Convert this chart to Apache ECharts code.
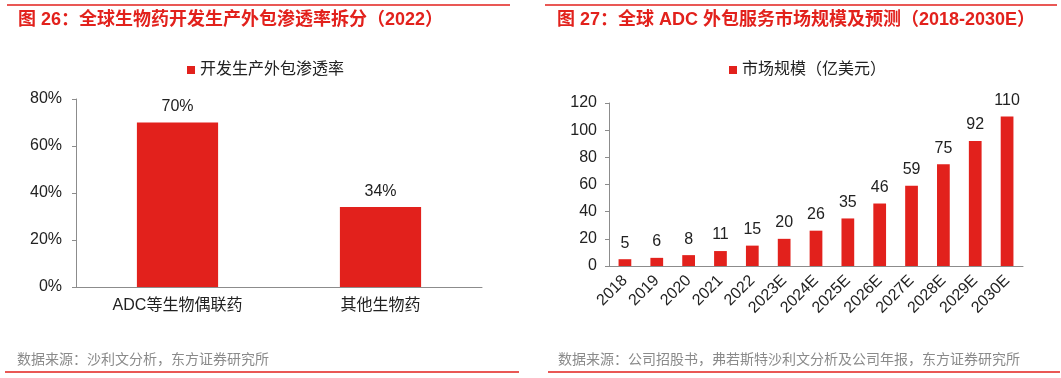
<!DOCTYPE html>
<html lang="zh-cn">
<head>
    <meta charset="utf-8">
    <style>
        html,body{margin:0;padding:0;background:#fff;}
        #main{width:1061px;height:378px;}
    </style>
</head>
<body>
<div id="main"></div>
<script src="https://cdn.jsdelivr.net/npm/echarts@6/dist/echarts.min.js"></script>
<script>
    // 左图：渗透率
    var leftCats = ['ADC等生物偶联药', '其他生物药'];
    var leftVals = [70, 34];
    var leftTicks = ['0%', '20%', '40%', '60%', '80%'];
    // 右图：市场规模（亿美元）
    var rightCats = ['2018', '2019', '2020', '2021', '2022', '2023E', '2024E', '2025E', '2026E', '2027E', '2028E', '2029E', '2030E'];
    var rightVals = [5, 6, 8, 11, 15, 20, 26, 35, 46, 59, 75, 92, 110];

    var red = '#e2211c';
    var font = 'Liberation Sans, Arial, Noto Sans CJK SC, sans-serif';
    var axisGray = '#8c8c8c';

    var myChart = echarts.init(document.getElementById('main'), null, {renderer: 'canvas'});

    var option = {
        backgroundColor: '#fff',
        textStyle: {fontFamily: font},
        animation: false,
        title: [
            {text: '图 26：全球生物药开发生产外包渗透率拆分（2022）', left: 18, top: 11, padding: 0,
                textStyle: {color: red, fontSize: 18, fontWeight: 'bold', fontFamily: font}},
            {text: '图 27：全球 ADC 外包服务市场规模及预测（2018-2030E）', left: 557, top: 11, padding: 0,
                textStyle: {color: red, fontSize: 18, fontWeight: 'bold', fontFamily: font}},
            {text: '数据来源：沙利文分析，东方证券研究所', left: 17, top: 353, padding: 0,
                textStyle: {color: '#8a8a8a', fontSize: 14, fontWeight: 'normal', fontFamily: font}},
            {text: '数据来源：公司招股书，弗若斯特沙利文分析及公司年报，东方证券研究所', left: 558, top: 353, padding: 0,
                textStyle: {color: '#8a8a8a', fontSize: 14, fontWeight: 'normal', fontFamily: font}}
        ],
        graphic: [
            {type: 'line', shape: {x1: 7, y1: 5, x2: 510, y2: 5}, style: {stroke: red, lineWidth: 1.5}},
            {type: 'line', shape: {x1: 545, y1: 5, x2: 1057, y2: 5}, style: {stroke: red, lineWidth: 1.5}},
            {type: 'line', shape: {x1: 5, y1: 372, x2: 519, y2: 372}, style: {stroke: red, lineWidth: 1.5}},
            {type: 'line', shape: {x1: 548, y1: 372, x2: 1060, y2: 372}, style: {stroke: red, lineWidth: 1.5}}
        ],
        legend: [
            {data: ['开发生产外包渗透率'], left: 182, top: 57, itemWidth: 8, itemHeight: 8, icon: 'rect', itemGap: 4,
                textStyle: {fontSize: 16, color: '#222', fontFamily: font}},
            {data: ['市场规模（亿美元）'], left: 724, top: 57, itemWidth: 8, itemHeight: 8, icon: 'rect', itemGap: 4,
                textStyle: {fontSize: 16, color: '#222', fontFamily: font}}
        ],
        grid: [
            {left: 76, top: 99, width: 406, height: 188},
            {left: 609, top: 103, width: 414, height: 163}
        ],
        xAxis: [
            {type: 'category', gridIndex: 0, data: leftCats,
                axisLine: {lineStyle: {color: axisGray}},
                axisTick: {inside: true, length: 5, lineStyle: {color: axisGray}},
                axisLabel: {color: '#222', fontSize: 16, margin: 11}},
            {type: 'category', gridIndex: 1, data: rightCats,
                axisLine: {lineStyle: {color: axisGray}},
                axisTick: {inside: true, length: 5, lineStyle: {color: axisGray}},
                axisLabel: {color: '#222', fontSize: 16, rotate: 45, margin: 12, interval: 0}}
        ],
        yAxis: [
            {type: 'value', gridIndex: 0, min: 0, max: 80, interval: 20,
                splitLine: {show: false},
                axisLine: {show: true, lineStyle: {color: axisGray}},
                axisTick: {show: true, length: 4, lineStyle: {color: axisGray}},
                axisLabel: {color: '#222', fontSize: 16, margin: 14, formatter: function (v) {
                    return leftTicks[v / 20];
                }}},
            {type: 'value', gridIndex: 1, min: 0, max: 120, interval: 20,
                splitLine: {show: false},
                axisLine: {show: true, lineStyle: {color: axisGray}},
                axisTick: {show: true, length: 4, lineStyle: {color: axisGray}},
                axisLabel: {color: '#222', fontSize: 16, margin: 12}}
        ],
        series: [
            {name: '开发生产外包渗透率', type: 'bar', xAxisIndex: 0, yAxisIndex: 0, data: leftVals,
                barWidth: '40%', itemStyle: {color: red},
                label: {show: true, position: 'top', distance: 8, color: '#222', fontSize: 16,
                    formatter: '{c}%'}},
            {name: '市场规模（亿美元）', type: 'bar', xAxisIndex: 1, yAxisIndex: 1, data: rightVals,
                barWidth: '40%', itemStyle: {color: red},
                label: {show: true, position: 'top', distance: 8, color: '#222', fontSize: 16}}
        ]
    };
    myChart.setOption(option);
</script>
</body>
</html>
